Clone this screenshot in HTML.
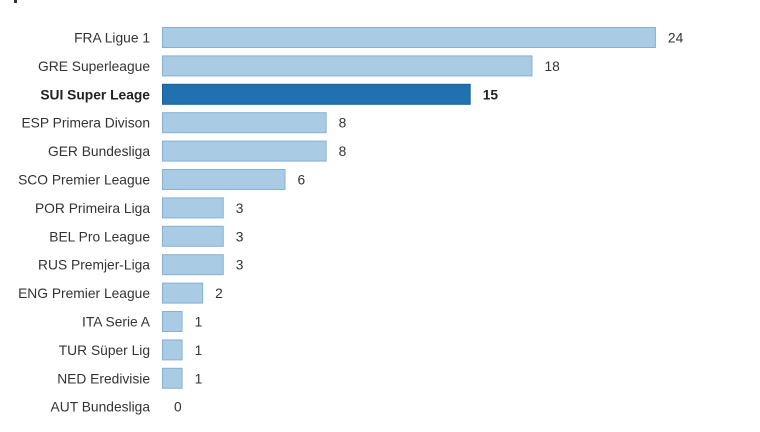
<!DOCTYPE html>
<html><head><style>
body{margin:0;background:#fff;width:760px;height:427px;overflow:hidden;font-family:"Liberation Sans",sans-serif;}
</style></head><body>
<svg width="760" height="427" xmlns="http://www.w3.org/2000/svg" font-family="Liberation Sans, sans-serif" font-size="13.8" fill="#333">
<rect x="14" y="0" width="3" height="3" fill="#333"/>
<g id="bars"></g>
</svg>
<script>
const d=[["FRA Ligue 1",24],["GRE Superleague",18],["SUI Super Leage",15],["ESP Primera Divison",8],["GER Bundesliga",8],["SCO Premier League",6],["POR Primeira Liga",3],["BEL Pro League",3],["RUS Premjer-Liga",3],["ENG Premier League",2],["ITA Serie A",1],["TUR Süper Lig",1],["NED Eredivisie",1],["AUT Bundesliga",0]];
const g=document.getElementById('bars');let s='';
d.forEach((r,i)=>{const top=27+i*28.4,w=r[1]*20.58,hi=i==2,cy=top+10.5;
if(w>0)s+=`<rect x="162.5" y="${top+0.5}" width="${w-1}" height="20" fill="${hi?'#2171b0':'#a9cbe4'}" stroke="${hi?'#1a5f96':'#86b1d2'}" stroke-width="1"/>`;
s+=`<text x="150" y="${cy+5}" text-anchor="end" ${hi?'font-weight="bold" fill="#222"':''}>${r[0]}</text>`;
s+=`<text x="${162+w+12}" y="${cy+5}" ${hi?'font-weight="bold" fill="#222"':''}>${r[1]}</text>`;});
g.innerHTML=s;
</script>
</body></html>
